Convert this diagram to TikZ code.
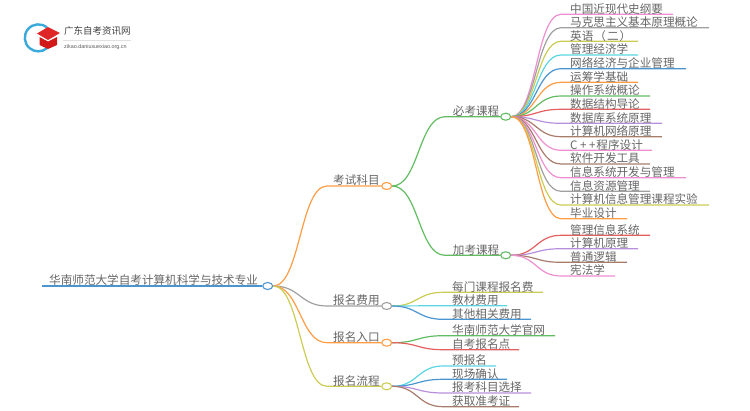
\documentclass[tikz,border=0pt]{standalone}
\usepackage{fontspec}
\setmainfont{Noto Sans CJK SC}
\newfontfamily\urlfont{Liberation Sans}
\usetikzlibrary{calc,shapes.geometric}
\definecolor{cblue}{HTML}{4A94D0}
\definecolor{corange}{HTML}{FF9D45}
\definecolor{cgray}{HTML}{A0A0A0}
\definecolor{colive}{HTML}{CCCC55}
\definecolor{cgreen}{HTML}{62BC62}
\definecolor{cpink}{HTML}{EE8FD0}
\definecolor{ccyan}{HTML}{5AD5E2}
\definecolor{cred}{HTML}{E46060}
\definecolor{cpurple}{HTML}{B88FDC}
\definecolor{cbrown}{HTML}{A87C6C}
\definecolor{txt}{HTML}{666666}
\tikzset{
  hub/.style={ellipse,draw=#1,fill=white,line width=1.1pt,minimum width=10pt,minimum height=7pt,inner sep=0pt},
  lab/.style={anchor=base west,inner sep=0pt,text=txt,font=\fontsize{11.6}{12}\selectfont},
  conn/.style={draw=#1,line width=1.2pt,line join=round}
}
% leaf: name, hub, line start x, y, line end x, colour, text
\newcommand{\branch}[7]{%
  \coordinate (#1s) at (#3,#4);
  \coordinate (#1e) at (#5,#4);
  \draw[conn=#6] (#2.east) .. controls ($(#2.east)!.5!(#2.east -| #1s)$) and ($(#1s)!.5!(#2.east |- #1s)$) .. (#1s) -- (#1e);
  \node[lab] (#1) at (#3+9,#4-1.3) {#7};
}
% inner branch: name, hub, line start x, target hub, colour, text x, text
\newcommand{\inner}[7]{%
  \coordinate (#1s) at (#3 |- #4);
  \draw[conn=#5] (#2.east) .. controls ($(#2.east)!.5!(#2.east -| #1s)$) and ($(#1s)!.5!(#2.east |- #1s)$) .. (#1s) -- (#4.west);
  \coordinate (#1b) at ($(#4.west)+(0,-1.3)$);
  \node[lab] (#1) at (#6 |- #1b) {#7};
}
\begin{document}
\begin{tikzpicture}[x=1pt,y=-1pt]
\useasboundingbox (0,0) rectangle (750,410);
% logo
\draw[cblue!80!cyan,line width=2.4pt] (47,27.5) arc[start angle=50,end angle=310,x radius=13.5,y radius=-13.5];
\fill[red!80!black!90!white] (39.5,37) -- (39.5,45) -- (48,49) -- (57,45) -- (57,37) -- (48,41.5) -- cycle;
\fill[red!85!black!85!white] (37,33.5) -- (48,27) -- (60,33) -- (48,40) -- cycle;
\node[inner sep=0pt,anchor=west,font=\fontsize{9.5}{10}\selectfont,text=black!75] (logotitle) at (64,31) {广东自考资讯网};
\draw[black!12,line width=0.5pt] (63,40.5) -- (131,40.5);
\node[inner sep=0pt,anchor=west,font=\urlfont\fontsize{5.4}{6}\selectfont,text=black!65] (logourl) at (64,47) {zikao.daniuxuexiao.org.cn};
% hubs
\node[hub=cblue] (root) at (267.7,286) {};
\node[hub=corange] (exam) at (386.7,186) {};
\node[hub=cgray] (fee) at (386.7,306) {};
\node[hub=corange] (entry) at (386.7,342.7) {};
\node[hub=colive] (flow) at (386.7,386.3) {};
\node[hub=cgreen] (must) at (505.7,116.7) {};
\node[hub=cgreen] (extra) at (505.7,255.3) {};
% root
\coordinate (rootstart) at (42,286);
\draw[cblue,line width=1.4pt] (rootstart) -- (root.west);
\node[lab] (roottext) at (49,284.5) {华南师范大学自考计算机科学与技术专业};
% level 1
\coordinate (x1) at (327,0);
\coordinate (xt1) at (333,0);
\inner{examt}{root}{x1}{exam}{corange}{xt1}{考试科目}
\inner{feet}{root}{x1}{fee}{cgray}{xt1}{报名费用}
\inner{entryt}{root}{x1}{entry}{corange}{xt1}{报名入口}
\inner{flowt}{root}{x1}{flow}{colive}{xt1}{报名流程}
% level 2
\coordinate (x2) at (445,0);
\coordinate (xt2) at (452.7,0);
\inner{mustt}{exam}{x2}{must}{cgreen}{xt2}{必考课程}
\inner{extrat}{exam}{x2}{extra}{cgreen}{xt2}{加考课程}
% required
\branch{a1}{must}{561}{14.3}{673}{cpink}{中国近现代史纲要}
\branch{a2}{must}{561}{27.7}{709}{cgray}{马克思主义基本原理概论}
\branch{a3}{must}{561}{41.3}{638}{colive}{英语\hspace{1pt}（\hspace{1pt}二\hspace{1pt}）}
\branch{a4}{must}{561}{55}{638}{ccyan}{管理经济学}
\branch{a5}{must}{561}{68.7}{686}{cblue}{网络经济与企业管理}
\branch{a6}{must}{561}{82.3}{638}{corange}{运筹学基础}
\branch{a7}{must}{561}{96}{650}{cgreen}{操作系统概论}
\branch{a8}{must}{561}{109.3}{650}{cred}{数据结构导论}
\branch{a9}{must}{561}{123.3}{662}{cpurple}{数据库系统原理}
\branch{a10}{must}{561}{136.7}{662}{cbrown}{计算机网络原理}
\branch{a11}{must}{561}{150.3}{652}{cpink}{C\hspace{2.5pt}+\hspace{2.5pt}+\hspace{1pt}程序设计}
\branch{a12}{must}{561}{164}{650}{cbrown}{软件开发工具}
\branch{a13}{must}{561}{177.7}{686}{cpink}{信息系统开发与管理}
\branch{a14}{must}{561}{191.3}{650}{cgray}{信息资源管理}
\branch{a15}{must}{561}{205}{709}{colive}{计算机信息管理课程实验}
\branch{a16}{must}{561}{218.7}{627}{corange}{毕业设计}
% extra
\branch{b1}{extra}{561}{235.3}{650}{cred}{管理信息系统}
\branch{b2}{extra}{561}{248.7}{638}{cpurple}{计算机原理}
\branch{b3}{extra}{561}{262.3}{627}{cbrown}{普通逻辑}
\branch{b4}{extra}{561}{276}{615}{cpink}{宪法学}
% fee
\branch{c1}{fee}{443}{292.3}{543}{colive}{每门课程报名费}
\branch{c2}{fee}{443}{305.7}{507}{ccyan}{教材费用}
\branch{c3}{fee}{443}{319.3}{531}{cblue}{其他相关费用}
% entry
\branch{d1}{entry}{443}{335.7}{555}{cgreen}{华南师范大学官网}
\branch{d2}{entry}{443}{349.7}{519}{cred}{自考报名点}
% flow
\branch{e1}{flow}{443}{366}{496}{ccyan}{预报名}
\branch{e2}{flow}{443}{379.3}{507}{cblue}{现场确认}
\branch{e3}{flow}{443}{393}{531}{cpurple}{报考科目选择}
\branch{e4}{flow}{443}{406.7}{519}{cbrown}{获取准考证}
\end{tikzpicture}
\end{document}
